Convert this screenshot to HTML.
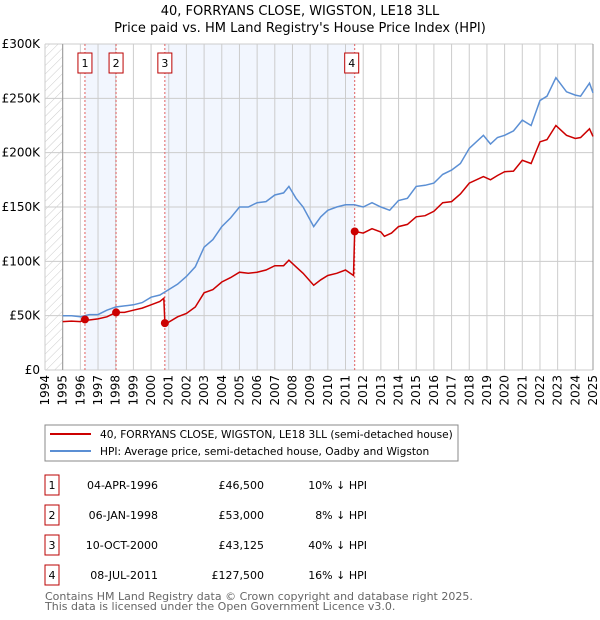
<!DOCTYPE html>
<html><head><meta charset="utf-8"><style>
body{margin:0;background:#fff;font-family:"Liberation Sans","DejaVu Sans",sans-serif;}
#wrap{position:relative;width:600px;height:620px;overflow:hidden}
</style></head><body>
<div id="wrap">
<svg id="chart" width="600" height="620" viewBox="0 0 600 620" xmlns="http://www.w3.org/2000/svg" font-family="DejaVu Sans, Liberation Sans, sans-serif">
<defs>
<pattern id="hatch" width="6" height="6" patternUnits="userSpaceOnUse" patternTransform="rotate(45)">
<line x1="0" y1="0" x2="0" y2="6" stroke="#ccc" stroke-width="1"/>
</pattern>
</defs>
<text x="300" y="15" text-anchor="middle" font-size="13" fill="#000">40, FORRYANS CLOSE, WIGSTON, LE18 3LL</text>
<text x="300" y="32" text-anchor="middle" font-size="13" fill="#000">Price paid vs. HM Land Registry's House Price Index (HPI)</text>
<g id="plot"></g>
<rect x="45" y="425" width="413" height="36" fill="#fff" stroke="#888"/>
<line x1="50" y1="434" x2="91" y2="434" stroke="#cc0000" stroke-width="2"/>
<text x="100" y="438" font-size="10.6">40, FORRYANS CLOSE, WIGSTON, LE18 3LL (semi-detached house)</text>
<line x1="50" y1="451" x2="91" y2="451" stroke="#5b8fd4" stroke-width="2"/>
<text x="100" y="455" font-size="10.6">HPI: Average price, semi-detached house, Oadby and Wigston</text>
<g id="table" font-size="11"></g>
<text x="45" y="600" font-size="11" fill="#666">Contains HM Land Registry data © Crown copyright and database right 2025.</text>
<text x="45" y="610" font-size="11" fill="#666">This data is licensed under the Open Government Licence v3.0.</text>
</svg>
</div>
<script>
const yTicks=[0,50,100,150,200,250,300];
const yTickLabels=["£0","£50K","£100K","£150K","£200K","£250K","£300K"];
const years=[1994,1995,1996,1997,1998,1999,2000,2001,2002,2003,2004,2005,2006,2007,2008,2009,2010,2011,2012,2013,2014,2015,2016,2017,2018,2019,2020,2021,2022,2023,2024,2025];
const hpiT=[1995,1995.5,1996,1996.5,1997,1997.5,1998,1998.5,1999,1999.5,2000,2000.5,2001,2001.5,2002,2002.5,2003,2003.5,2004,2004.5,2005,2005.5,2006,2006.5,2007,2007.5,2007.8,2008.2,2008.6,2009.2,2009.6,2010,2010.5,2011,2011.5,2012,2012.5,2013,2013.5,2014,2014.5,2015,2015.5,2016,2016.5,2017,2017.5,2018,2018.8,2019.2,2019.6,2020,2020.5,2021,2021.5,2022,2022.4,2022.9,2023.5,2024,2024.3,2024.8,2025];
const hpiV=[50,50,49,51,51,55,58,59,60,62,67,69,74,79,86,95,113,120,132,140,150,150,154,155,161,163,169,158,150,132,141,147,150,152,152,150,154,150,147,156,158,169,170,172,180,184,190,204,216,208,214,216,220,230,225,248,252,269,256,253,252,264,255];
const propT=[1995,1995.5,1996,1996.26,1996.5,1997,1997.5,1998.02,1998.5,1999,1999.5,2000,2000.5,2000.72,2000.78,2001,2001.5,2002,2002.5,2003,2003.5,2004,2004.5,2005,2005.5,2006,2006.5,2007,2007.5,2007.8,2008.2,2008.6,2009.2,2009.6,2010,2010.5,2011,2011.45,2011.52,2012,2012.5,2013,2013.2,2013.6,2014,2014.5,2015,2015.5,2016,2016.5,2017,2017.5,2018,2018.8,2019.2,2019.6,2020,2020.5,2021,2021.5,2022,2022.4,2022.9,2023.5,2024,2024.3,2024.8,2025];
const propV=[44.5,45,44.5,46.5,46,47,49,53,53,55,57,60,63,66,43.1,44,49,52,58,71,74,81,85,90,89,90,92,96,96,101,95,89,78,83,87,89,92,87,127.5,126,130,127,123,126,132,134,141,142,146,154,155,162,172,178,175,179,182.5,183,193,190,210,212,225,216,213,214,222,215];
const saleT=[1996.26,1998.02,2000.78,2011.52];
const saleV=[46.5,53,43.125,127.5];
const saleLabels=["1","2","3","4"];
const saleDates=["04-APR-1996","06-JAN-1998","10-OCT-2000","08-JUL-2011"];
const salePrices=["£46,500","£53,000","£43,125","£127,500"];
const saleDiffs=["10% ↓ HPI","8% ↓ HPI","40% ↓ HPI","16% ↓ HPI"];

const NS="http://www.w3.org/2000/svg";
const X0=45,X1=593,Y0=370,Y1=44;
const xs=t=>X0+(t-1994)*(X1-X0)/31;
const ys=v=>Y0-v*(Y0-Y1)/300;
const plot=document.getElementById('plot');
function mk(tag,attrs,parent){const e=document.createElementNS(NS,tag);for(const k in attrs)e.setAttribute(k,attrs[k]);(parent||plot).appendChild(e);return e;}

let e;
e=mk('rect',{x:X0,y:Y1,width:X1-X0,height:Y0-Y1,fill:'#fff'});


e=mk('rect',{x:xs(saleT[0]),y:Y1,width:xs(saleT[1])-xs(saleT[0]),height:Y0-Y1,fill:'#f2f6fe'});


e=mk('rect',{x:xs(saleT[2]),y:Y1,width:xs(saleT[3])-xs(saleT[2]),height:Y0-Y1,fill:'#f2f6fe'});


e=mk('rect',{x:X0,y:Y1,width:xs(1995)-X0,height:Y0-Y1,fill:'url(#hatch)'});



years.forEach(yr=>{
  e=mk('line',{x1:xs(yr),x2:xs(yr),y1:Y1,y2:Y0,stroke:'#ccc','stroke-width':1});
  
  
  e=mk('text',{x:0,y:0,'font-size':12,'text-anchor':'end',transform:`translate(${xs(yr)+4},375) rotate(-90)`});
  e.textContent=String(yr);
  
  
});
yTicks.forEach((v,i)=>{
  e=mk('line',{x1:X0,x2:X1,y1:ys(v),y2:ys(v),stroke:'#ccc','stroke-width':1});
  
  
  e=mk('text',{x:40,y:ys(v)+4,'font-size':12,'text-anchor':'end'});
  e.textContent=yTickLabels[i];
  
  
});
e=mk('line',{x1:xs(1995),x2:xs(1995),y1:Y1,y2:Y0,stroke:'#999'});


e=mk('line',{x1:X1,x2:X1,y1:Y1,y2:Y0,stroke:'#999'});



saleT.forEach((t,i)=>{
  e=mk('line',{x1:xs(t),x2:xs(t),y1:Y1,y2:Y0,stroke:'#e06060','stroke-width':1,'stroke-dasharray':'2,2'});
  
  
});

const path=(T,V)=>T.map((t,i)=>(i?'L':'M')+xs(t).toFixed(1)+','+ys(V[i]).toFixed(1)).join(' ');
e=mk('path',{d:path(hpiT,hpiV),fill:'none',stroke:'#5b8fd4','stroke-width':1.5});


e=mk('path',{d:path(propT,propV),fill:'none',stroke:'#cc0000','stroke-width':1.5});



saleT.forEach((t,i)=>{
  e=mk('circle',{cx:xs(t),cy:ys(saleV[i]),r:4,fill:'#cc0000'});
  
  
  const bx=xs(t)-(i===3?3:0);
  e=mk('rect',{x:bx-7,y:53,width:14,height:20,fill:'#fff',stroke:'#b00'});
  
  
  e=mk('text',{x:bx,y:67,'font-size':11,'text-anchor':'middle'});
  e.textContent=saleLabels[i];
  
  
});

const table=document.getElementById('table');
saleLabels.forEach((lab,i)=>{
  const cy=483+i*30;
  e=mk('rect',{x:45,y:cy-8,width:14,height:20,fill:'#fff',stroke:'#b00'},table);
  
  
  e=mk('text',{x:52,y:cy+6,'text-anchor':'middle'},table);
  e.textContent=lab;
  
  
  e=mk('text',{x:158,y:cy+6,'text-anchor':'end'},table);
  e.textContent=saleDates[i];
  
  
  e=mk('text',{x:264,y:cy+6,'text-anchor':'end'},table);
  e.textContent=salePrices[i];
  
  
  e=mk('text',{x:367,y:cy+6,'text-anchor':'end'},table);
  e.textContent=saleDiffs[i];
  
  
});
</script>
</body></html>
